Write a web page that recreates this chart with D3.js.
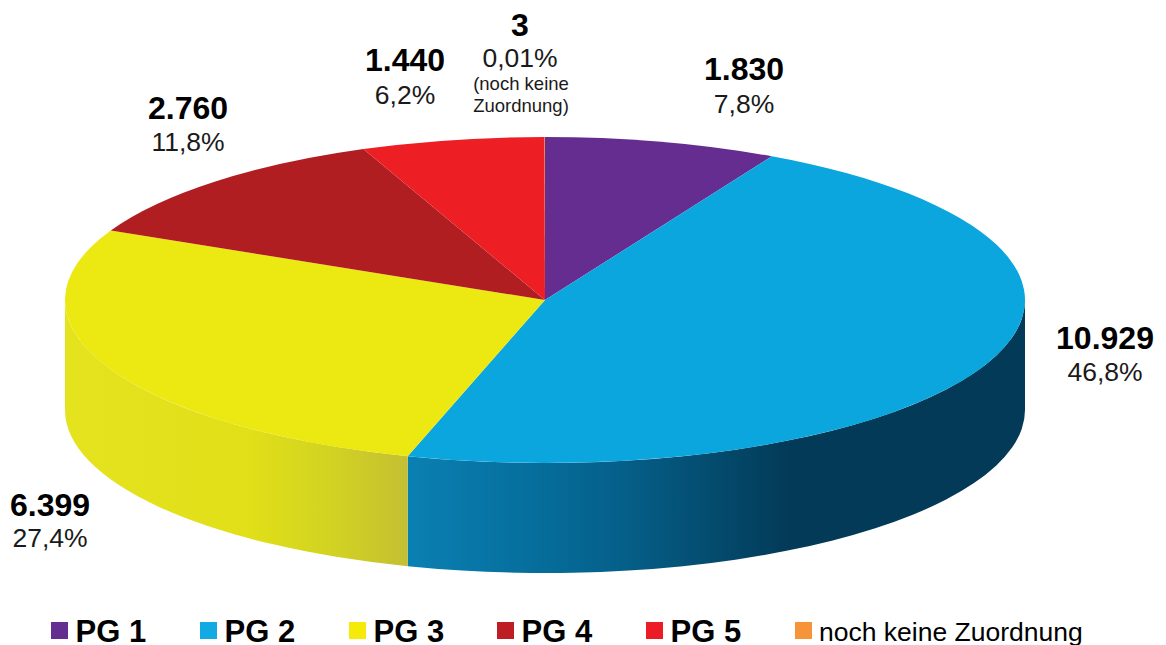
<!DOCTYPE html>
<html>

<head>
    <meta charset="utf-8">
    <style>
        body {
            margin: 0;
            background: #fff;
        }

        svg {
            display: block;
            font-family: 'Liberation Sans', Arial, sans-serif;
        }

        .value {
            font-size: 32px;
            font-weight: bold;
            text-anchor: middle;
        }

        .share {
            font-size: 26.5px;
            fill: #1a1a1a;
            text-anchor: middle;
        }

        .note {
            font-size: 18.5px;
            fill: #1a1a1a;
            text-anchor: middle;
        }

        .legend-bold {
            font-size: 31px;
            font-weight: bold;
        }

        .legend-plain {
            font-size: 26.5px;
        }
    </style>
</head>

<body>
    <svg width="1166" height="645"></svg>

    <script src="https://d3js.org/d3.v7.min.js"></script>
    <script>
        const categories = ["PG 1", "PG 2", "PG 3", "PG 4", "PG 5", "noch keine Zuordnung"];
        const counts = [1830, 10929, 6399, 2760, 1440, 3];
        const valueLabels = ["1.830", "10.929", "6.399", "2.760", "1.440", "3"];
        const shareLabels = ["7,8%", "46,8%", "27,4%", "11,8%", "6,2%", "0,01%"];
        const noteLines = ["(noch keine", "Zuordnung)"];

        const topColors = ["#652d90", "#0ca6df", "#ece811", "#b01e21", "#ed1f24", "#f7943a"];
        const legendColors = ["#662d91", "#13a9e2", "#f5ea0a", "#bc1e24", "#ed1c24", "#f7943a"];

        // label anchors, same order as categories: [x, value baseline, share baseline]
        const labelSpots = [
            [744, 80, 113],
            [1105, 349, 381],
            [50, 516, 547],
            [188, 119, 151],
            [405, 71, 104],
            [520, 36, 67]
        ];
        const legendX = [51, 200, 349, 497, 646, 795];

        const cx = 545, cy = 300, rx = 480, ry = 163, depth = 110;

        const svg = d3.select("svg");
        const defs = svg.append("defs");

        // side wall shading runs left to right
        const wallStops = [
            { id: "wall-yellow", stops: [[65, "#e4e31e"], [250, "#e0df18"], [330, "#d2d322"], [408, "#c4bf32"]] },
            { id: "wall-blue", stops: [[408, "#0a80b2"], [520, "#06709f"], [620, "#05608a"], [720, "#044a6c"], [790, "#033a58"], [1025, "#033a58"]] }
        ];

        wallStops.forEach(g => {
            defs.append("linearGradient")
                .attr("id", g.id)
                .attr("gradientUnits", "userSpaceOnUse")
                .attr("x1", 65).attr("x2", 1025)
                .attr("y1", 0).attr("y2", 0)
                .selectAll("stop")
                .data(g.stops)
                .join("stop")
                .attr("offset", d => (d[0] - 65) / 960)
                .attr("stop-color", d => d[1]);
        });

        const pie = d3.pie().sort(null);
        const slices = pie(counts);

        const rimPoint = (a, dy) => [cx + rx * Math.sin(a), cy - ry * Math.cos(a) + dy];

        // only the front half of the rim is visible
        function wallPath(d) {
            const a0 = Math.max(d.startAngle, Math.PI / 2);
            const a1 = Math.min(d.endAngle, 3 * Math.PI / 2);
            if (a1 <= a0) return null;
            const p0 = rimPoint(a0, 0), p1 = rimPoint(a1, 0);
            const q1 = rimPoint(a1, depth), q0 = rimPoint(a0, depth);
            return `M${p0}A${rx},${ry} 0 0 1 ${p1}L${q1}A${rx},${ry} 0 0 0 ${q0}Z`;
        }

        svg.append("g")
            .selectAll("path")
            .data(slices.filter(d => wallPath(d)))
            .join("path")
            .attr("d", wallPath)
            .attr("fill", d => d.index === 1 ? "url(#wall-blue)" : "url(#wall-yellow)");

        const arc = d3.arc().innerRadius(0).outerRadius(rx);

        svg.append("g")
            .attr("transform", `translate(${cx},${cy}) scale(1,${ry / rx})`)
            .selectAll("path")
            .data(slices)
            .join("path")
            .attr("d", arc)
            .attr("fill", d => topColors[d.index]);

        // slice labels
        const labels = svg.append("g");

        categories.forEach((c, i) => {
            const spot = labelSpots[i];
            labels.append("text")
                .attr("class", "value")
                .attr("x", spot[0])
                .attr("y", spot[1])
                .text(valueLabels[i]);
            labels.append("text")
                .attr("class", "share")
                .attr("x", spot[0])
                .attr("y", spot[2])
                .text(shareLabels[i]);
        });

        noteLines.forEach((line, i) => {
            labels.append("text")
                .attr("class", "note")
                .attr("x", 521)
                .attr("y", 90 + i * 21.5)
                .text(line);
        });

        // legend
        const legend = svg.append("g")
            .selectAll("g")
            .data(categories)
            .join("g")
            .attr("transform", (d, i) => `translate(${legendX[i]},0)`);

        legend.append("rect")
            .attr("y", 622)
            .attr("width", 17)
            .attr("height", 17)
            .attr("fill", (d, i) => legendColors[i]);

        legend.append("text")
            .attr("class", (d, i) => i < 5 ? "legend-bold" : "legend-plain")
            .attr("x", (d, i) => i < 5 ? 24.5 : 24)
            .attr("y", (d, i) => i < 5 ? 642 : 641)
            .text(d => d);
    </script>
</body>

</html>
